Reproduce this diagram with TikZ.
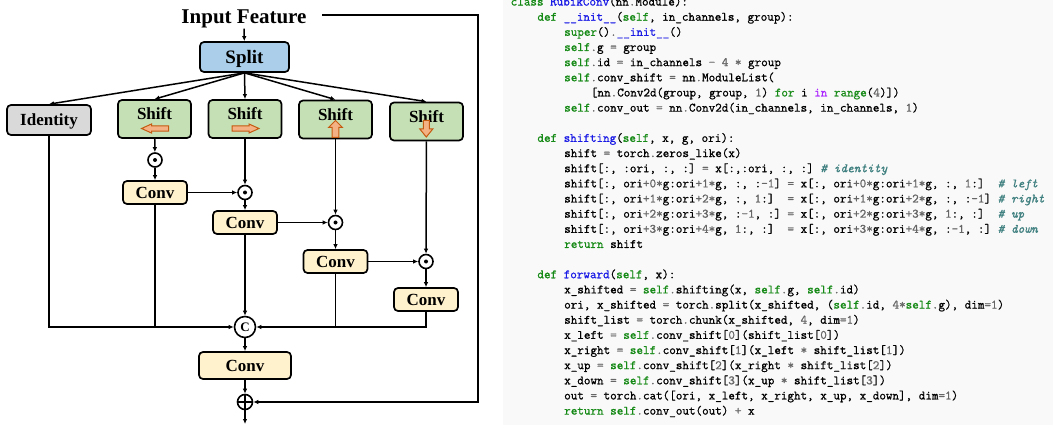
\documentclass[tikz,border=0pt]{standalone}
\usepackage{fontspec}
\usepackage{xcolor}
\usetikzlibrary{arrows.meta}
\newfontfamily\diagfont{Liberation Serif}
\setmonofont{Latin Modern Mono}[FakeBold=1.0]

\definecolor{splitblue}{HTML}{ABCFEA}
\definecolor{identgray}{HTML}{D9D9D9}
\definecolor{shiftgreen}{HTML}{C5E0B4}
\definecolor{convyellow}{HTML}{FFF2CC}
\definecolor{arrowfill}{HTML}{F4B183}
\definecolor{arrowdraw}{HTML}{C55A11}
\definecolor{codebg}{HTML}{F9F9F9}
\definecolor{codegreen}{HTML}{168A16}
\definecolor{codeblue}{HTML}{1A1AE6}
\definecolor{codegray}{HTML}{666666}
\definecolor{codeteal}{HTML}{408080}
\definecolor{codepurple}{HTML}{AA22FF}

\newcommand{\kwd}[1]{\textcolor{codegreen}{#1}}
\newcommand{\fnc}[1]{\textcolor{codeblue}{#1}}
\newcommand{\nmb}[1]{\textcolor{codegray}{#1}}
\newcommand{\inw}[1]{\textcolor{codepurple}{#1}}
\newcommand{\cmt}[1]{\textcolor{codeteal}{\itshape\#\ #1}}
\newcommand{\codeline}[3]{\node[codetext] (line#1) at ({510.5+6.69*#2}, {5.55+15.15*#1}) {#3};}

\tikzset{
	>={Latex[length=5pt, width=4.5pt]},
	title/.style={inner sep=0pt, font=\diagfont\bfseries\fontsize{21}{24}\selectfont},
	box/.style={draw, rounded corners=4pt, line width=1.7pt, inner sep=0pt, text depth=0pt,
			font=\diagfont\bfseries\fontsize{17}{20}\selectfont},
	splitbox/.style={box, fill=splitblue, minimum width=89pt, minimum height=30pt,
			font=\diagfont\bfseries\fontsize{19}{22}\selectfont},
	identbox/.style={box, fill=identgray, minimum width=84pt, minimum height=30pt},
	shiftbox/.style={box, fill=shiftgreen, minimum width=73pt, minimum height=38pt,
			text height=17pt, text depth=15pt},
	convbox/.style={box, fill=convyellow, minimum width=64pt, minimum height=23pt},
	odot/.style={circle, draw, line width=1.6pt, minimum size=14pt, inner sep=0pt},
	catnode/.style={circle, draw, line width=1.6pt, minimum size=21pt, inner sep=0pt,
			font=\diagfont\bfseries\fontsize{13}{15}\selectfont},
	dirarrow/.style={fill=arrowfill, draw=arrowdraw, line width=1pt, line join=miter},
	link/.style={line width=1.5pt},
	codetext/.style={anchor=base west, inner sep=0pt, font=\ttfamily\fontsize{12.75}{15}\selectfont}
}

\begin{document}
\begin{tikzpicture}[x=1pt, y=-1pt]
	\useasboundingbox (0, 0) rectangle (1053, 425);
	\fill[codebg] (503, 0) rectangle (1053, 425);

	% blocks
	\node[title, anchor=base] (input) at (244, 24) {Input Feature};
	\node[splitbox] (split) at (244.5, 57) {Split};
	\node[identbox] (ident) at (49, 120) {Identity};
	\node[shiftbox] (shiftL) at (154.5, 119) {Shift};
	\node[shiftbox] (shiftR) at (245, 119) {Shift};
	\node[shiftbox] (shiftU) at (335.5, 119.5) {Shift};
	\node[shiftbox] (shiftD) at (426.5, 121.5) {Shift};

	\node[odot] (dotL) at (155, 160) {};
	\node[convbox] (convL) at (155, 192.5) {Conv};
	\node[odot] (dotR) at (245, 192.5) {};
	\node[convbox] (convR) at (245, 222.5) {Conv};
	\node[odot] (dotU) at (335.5, 222.5) {};
	\node[convbox] (convU) at (335.5, 261.5) {Conv};
	\node[odot] (dotD) at (426, 261.5) {};
	\node[convbox] (convD) at (426, 299.5) {Conv};

	\node[catnode] (cat) at (245, 327) {C};
	\node[convbox, minimum width=92pt, minimum height=27pt] (convOut) at (245, 365.5) {Conv};
	\node[odot, minimum size=15pt] (plus) at (245, 402) {};

	\coordinate (out) at (245, 424);
	\coordinate (loopStart) at (322, 15);
	\coordinate (loopTop) at (478, 15);
	\coordinate (loopBot) at (478, 402);

	% marks inside the circles
	\fill (dotL) circle (2pt);
	\fill (dotR) circle (2pt);
	\fill (dotU) circle (2pt);
	\fill (dotD) circle (2pt);
	\draw[line width=1.5pt] (plus.north) to (plus.south) (plus.west) to (plus.east);

	% shift directions
	\draw[dirarrow] (141.5, 128.5) -- (151.5, 124) -- (151.5, 125.8) -- (168.5, 125.8) -- (168.5, 131.2) -- (151.5, 131.2) -- (151.5, 133) -- cycle;
	\draw[dirarrow] (259, 128.5) -- (249, 124) -- (249, 125.8) -- (232, 125.8) -- (232, 131.2) -- (249, 131.2) -- (249, 133) -- cycle;
	\draw[dirarrow] (335.5, 120.5) -- (342.5, 127.5) -- (338.8, 127.5) -- (338.8, 137.5) -- (332.2, 137.5) -- (332.2, 127.5) -- (328.5, 127.5) -- cycle;
	\draw[dirarrow] (426.3, 137) -- (432.8, 129) -- (429.3, 129) -- (429.3, 120.5) -- (423.3, 120.5) -- (423.3, 129) -- (419.8, 129) -- cycle;

	% connections
	\draw[->, link]	(input) to (split);
	\draw[->, link]	(split.south) to (ident.north);
	\draw[->, link]	(split.south) to (shiftL.north);
	\draw[->, link]	(split.south) to (shiftR.north);
	\draw[->, link]	(split.south) to (shiftU.north);
	\draw[->, link]	(split.south) to (shiftD.north);

	\draw[->, link]	(shiftL) to (dotL);
	\draw[->, link]	(dotL) to (convL);
	\draw[->, link]	(convL) to (dotR);
	\draw[->, link]	(shiftR) to (dotR);
	\draw[->, link]	(dotR) to (convR);
	\draw[->, link]	(convR) to (dotU);
	\draw[->, link]	(shiftU) to (dotU);
	\draw[->, link]	(dotU) to (convU);
	\draw[->, link]	(convU) to (dotD);
	\draw[->, link]	(shiftD) to (dotD);
	\draw[->, link]	(dotD) to (convD);

	\draw[->, link]	(ident) |- (cat);
	\draw[link]	(convL) to (convL |- cat);
	\draw[->, link]	(convR) to (cat);
	\draw[link]	(convU) to (convU |- cat);
	\draw[->, link]	(convD) |- (cat);

	\draw[->, link]	(cat) to (convOut);
	\draw[->, link]	(convOut) to (plus);
	\draw[->, link]	(plus) to (out);
	\draw[->, link]	(loopStart) to (loopTop) to (loopBot) to (plus);

	% code
	\codeline{0}{0}{\kwd{class} \fnc{RubikConv}(nn\nmb{.}Module):}
	\codeline{1}{4}{\kwd{def} \fnc{\_\_init\_\_}(\kwd{self}, in\_channels, group):}
	\codeline{2}{8}{\kwd{super}()\nmb{.}\fnc{\_\_init\_\_}()}
	\codeline{3}{8}{\kwd{self}\nmb{.}g \nmb{=} group}
	\codeline{4}{8}{\kwd{self}\nmb{.}id \nmb{=} in\_channels \nmb{-} \nmb{4} \nmb{*} group}
	\codeline{5}{8}{\kwd{self}\nmb{.}conv\_shift \nmb{=} nn\nmb{.}ModuleList(}
	\codeline{6}{12}{[nn\nmb{.}Conv2d(group, group, \nmb{1}) \kwd{for} i \inw{in} \kwd{range}(\nmb{4})])}
	\codeline{7}{8}{\kwd{self}\nmb{.}conv\_out \nmb{=} nn\nmb{.}Conv2d(in\_channels, in\_channels, \nmb{1})}
	\codeline{9}{4}{\kwd{def} \fnc{shifting}(\kwd{self}, x, g, ori):}
	\codeline{10}{8}{shift \nmb{=} torch\nmb{.}zeros\_like(x)}
	\codeline{11}{8}{shift[:, :ori, :, :] \nmb{=} x[:,:ori, :, :] \cmt{identity}}
	\codeline{12}{8}{shift[:, ori\nmb{+0*}g:ori\nmb{+1*}g, :, :\nmb{-1}] \nmb{=} x[:, ori\nmb{+0*}g:ori\nmb{+1*}g, :, \nmb{1}:] \ \cmt{left}}
	\codeline{13}{8}{shift[:, ori\nmb{+1*}g:ori\nmb{+2*}g, :, \nmb{1}:] \ \nmb{=} x[:, ori\nmb{+1*}g:ori\nmb{+2*}g, :, :\nmb{-1}] \cmt{right}}
	\codeline{14}{8}{shift[:, ori\nmb{+2*}g:ori\nmb{+3*}g, :\nmb{-1}, :] \nmb{=} x[:, ori\nmb{+2*}g:ori\nmb{+3*}g, \nmb{1}:, :] \ \cmt{up}}
	\codeline{15}{8}{shift[:, ori\nmb{+3*}g:ori\nmb{+4*}g, \nmb{1}:, :] \ \nmb{=} x[:, ori\nmb{+3*}g:ori\nmb{+4*}g, :\nmb{-1}, :] \cmt{down}}
	\codeline{16}{8}{\kwd{return} shift}
	\codeline{18}{4}{\kwd{def} \fnc{forward}(\kwd{self}, x):}
	\codeline{19}{8}{x\_shifted \nmb{=} \kwd{self}\nmb{.}shifting(x, \kwd{self}\nmb{.}g, \kwd{self}\nmb{.}id)}
	\codeline{20}{8}{ori, x\_shifted \nmb{=} torch\nmb{.}split(x\_shifted, (\kwd{self}\nmb{.}id, \nmb{4*}\kwd{self}\nmb{.}g), dim\nmb{=1})}
	\codeline{21}{8}{shift\_list \nmb{=} torch\nmb{.}chunk(x\_shifted, \nmb{4}, dim\nmb{=1})}
	\codeline{22}{8}{x\_left \nmb{=} \kwd{self}\nmb{.}conv\_shift[\nmb{0}](shift\_list[\nmb{0}])}
	\codeline{23}{8}{x\_right \nmb{=} \kwd{self}\nmb{.}conv\_shift[\nmb{1}](x\_left \nmb{*} shift\_list[\nmb{1}])}
	\codeline{24}{8}{x\_up \nmb{=} \kwd{self}\nmb{.}conv\_shift[\nmb{2}](x\_right \nmb{*} shift\_list[\nmb{2}])}
	\codeline{25}{8}{x\_down \nmb{=} \kwd{self}\nmb{.}conv\_shift[\nmb{3}](x\_up \nmb{*} shift\_list[\nmb{3}])}
	\codeline{26}{8}{out \nmb{=} torch\nmb{.}cat([ori, x\_left, x\_right, x\_up, x\_down], dim\nmb{=1})}
	\codeline{27}{8}{\kwd{return} \kwd{self}\nmb{.}conv\_out(out) \nmb{+} x}
\end{tikzpicture}
\end{document}
